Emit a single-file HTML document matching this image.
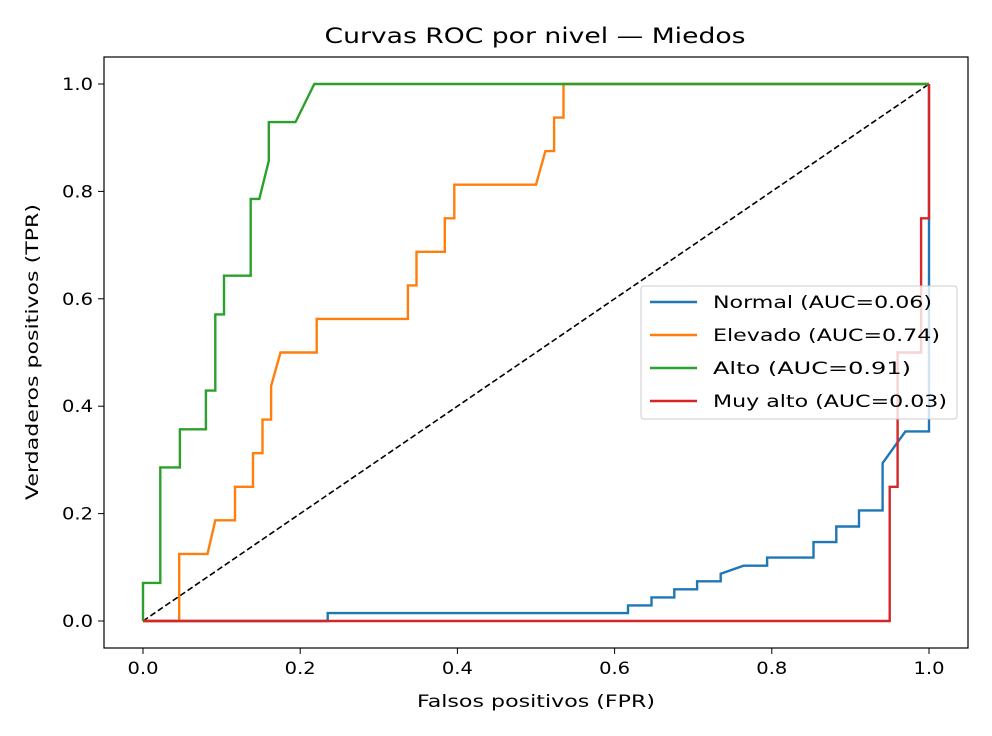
<!DOCTYPE html>
<html><head><meta charset="utf-8">
<style>body{margin:0;background:#fff}svg{display:block;font-family:"DejaVu Sans","Liberation Sans",sans-serif}</style>
</head><body>
<svg id="chart" width="992" height="736" viewBox="0 0 992 736"></svg>
<script>
const xTicks=[0,0.2,0.4,0.6,0.8,1.0];
const yTicks=[0,0.2,0.4,0.6,0.8,1.0];
const seriesNames=["Normal (AUC=0.06)","Elevado (AUC=0.74)","Alto (AUC=0.91)","Muy alto (AUC=0.03)"];
const seriesColors=["#1f77b4","#ff7f0e","#2ca02c","#d62728"];
const normalFpr=[0,0.235,0.235,0.617,0.617,0.647,0.647,0.676,0.676,0.705,0.705,0.735,0.735,0.764,0.794,0.794,0.853,0.853,0.882,0.882,0.911,0.911,0.941,0.941,0.97,1,1];
const normalTpr=[0,0,0.0147,0.0147,0.029,0.029,0.044,0.044,0.059,0.059,0.074,0.074,0.088,0.103,0.103,0.118,0.118,0.147,0.147,0.176,0.176,0.206,0.206,0.294,0.353,0.353,1];
const elevFpr=[0,0.046,0.046,0.082,0.092,0.117,0.117,0.14,0.14,0.152,0.152,0.163,0.163,0.175,0.221,0.221,0.337,0.337,0.348,0.348,0.384,0.384,0.396,0.396,0.5,0.512,0.523,0.523,0.535,0.535,1];
const elevTpr=[0,0,0.125,0.125,0.1875,0.1875,0.25,0.25,0.3125,0.3125,0.375,0.375,0.4375,0.5,0.5,0.5625,0.5625,0.625,0.625,0.6875,0.6875,0.75,0.75,0.8125,0.8125,0.875,0.875,0.9375,0.9375,1,1];
const altoFpr=[0,0,0.022,0.022,0.047,0.047,0.08,0.08,0.092,0.092,0.103,0.103,0.137,0.137,0.148,0.16,0.16,0.194,0.218,1];
const altoTpr=[0,0.071,0.071,0.286,0.286,0.357,0.357,0.429,0.429,0.571,0.571,0.643,0.643,0.786,0.786,0.857,0.929,0.929,1,1];
const muyFpr=[0,0.95,0.95,0.96,0.96,0.99,0.99,1,1];
const muyTpr=[0,0,0.25,0.25,0.5,0.5,0.75,0.75,1];

const NS="http://www.w3.org/2000/svg";
const svg=document.getElementById('chart');
const X=v=>143+v*786, Y=v=>621-v*537;
function mk(t,a,txt){const e=document.createElementNS(NS,t);for(const k in a)e.setAttribute(k,a[k]);if(txt!=null)e.textContent=txt;svg.appendChild(e);return e;}
const LA='spacingAndGlyphs';

let e=mk('text',{x:535,y:43,'text-anchor':'middle','font-size':21,textLength:421,lengthAdjust:LA},'Curvas ROC por nivel — Miedos');

e=mk('rect',{x:104,y:57,width:864,height:591,fill:'none',stroke:'#000','stroke-width':1.2});

xTicks.forEach(t=>{
 e=mk('line',{x1:X(t),x2:X(t),y1:648,y2:654,stroke:'#000'});
 
 e=mk('text',{x:X(t),y:674,'text-anchor':'middle','font-size':17,textLength:31,lengthAdjust:LA},t.toFixed(1));
 
});
yTicks.forEach(t=>{
 e=mk('line',{x1:98,x2:104,y1:Y(t),y2:Y(t),stroke:'#000'});
 
 e=mk('text',{x:93,y:Y(t)+6,'text-anchor':'end','font-size':17,textLength:31,lengthAdjust:LA},t.toFixed(1));
 
});
e=mk('text',{x:536,y:707,'text-anchor':'middle','font-size':17,textLength:238,lengthAdjust:LA},'Falsos positivos (FPR)');

e=mk('text',{x:38,y:352,'text-anchor':'middle','font-size':17,textLength:296,lengthAdjust:LA,transform:'rotate(-90 38 352)'},'Verdaderos positivos (TPR)');

e=mk('line',{x1:X(0),y1:Y(0),x2:X(1),y2:Y(1),stroke:'#000','stroke-width':1.6,'stroke-dasharray':'6,3'});

const all=[[normalFpr,normalTpr],[elevFpr,elevTpr],[altoFpr,altoTpr],[muyFpr,muyTpr]];
const lineNames=['normal-curve','elevado-curve','alto-curve','muy-alto-curve'];
all.forEach((s,i)=>{
 const pts=s[0].map((f,j)=>X(f).toFixed(1)+','+Y(s[1][j]).toFixed(1)).join(' ');
 const p=mk('polyline',{points:pts,fill:'none',stroke:seriesColors[i],'stroke-width':2.4,'stroke-linejoin':'miter'});
 
 
});
e=mk('rect',{x:641,y:286,width:316,height:133,rx:3,fill:'#fff','fill-opacity':0.8,stroke:'#ccc'});

const legendWidths=[219,227,198,234];
seriesNames.forEach((n,i)=>{
 const y=302+i*33;
 e=mk('line',{x1:650,x2:697,y1:y,y2:y,stroke:seriesColors[i],'stroke-width':2.4});
 
 e=mk('text',{x:713,y:y+6,'font-size':17,textLength:legendWidths[i],lengthAdjust:LA},n);
 
});
</script>
</body></html>
